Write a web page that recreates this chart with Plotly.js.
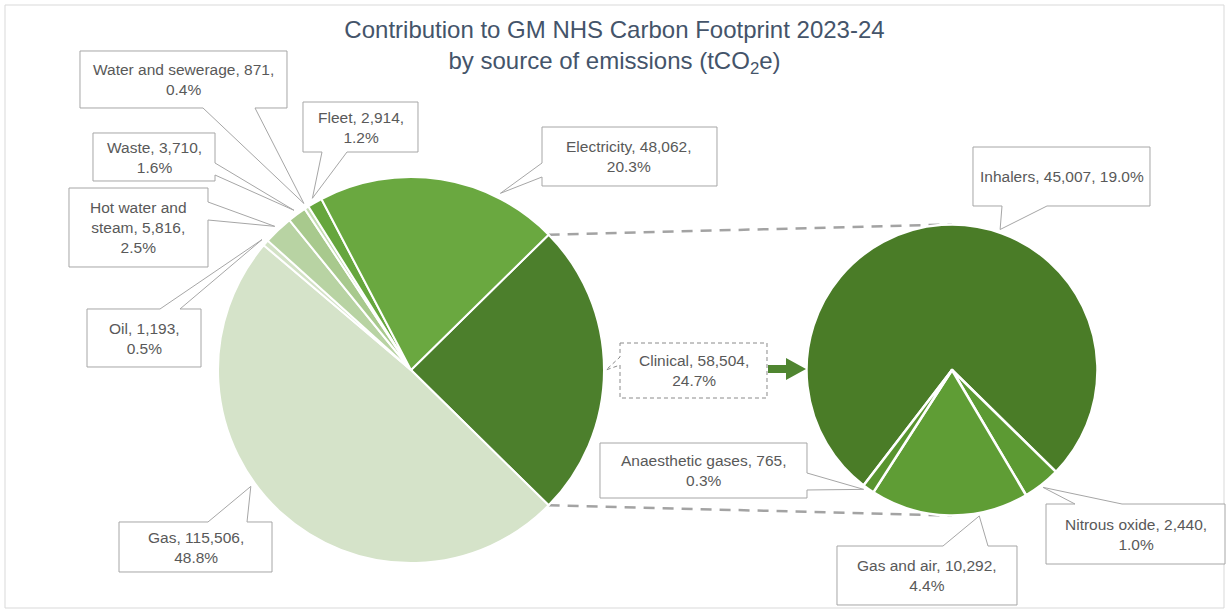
<!DOCTYPE html>
<html><head><meta charset="utf-8">
<script src="https://cdn.plot.ly/plotly-3.0.1.min.js"></script>
<style>html,body{margin:0;padding:0;background:#fff}#chart{width:1229px;height:612px}</style>
</head><body><div id="chart"></div>
<script>
// ---------- DATA ----------
const mainLabels = ['Clinical','Gas','Oil','Hot water and steam','Waste','Water and sewerage','Fleet','Electricity'];
const mainValues = [58504,115506,1193,5816,3710,871,2914,48062];
const clinicalLabels = ['Inhalers','Nitrous oxide','Gas and air','Anaesthetic gases'];
const clinicalValues = [45007,2440,10292,765];
const titleText = 'Contribution to GM NHS Carbon Footprint 2023-24<br>by source of emissions (tCO<sub>2</sub>e)';

// ---------- STYLE / LAYOUT ----------
const W = 1229, H = 612;
const mainColors = ['#4c7f2c','#d5e3c9','#d3e2c6','#b8d3a3','#a8c98d','#c5dcb3','#66a63d','#6aa840'];
const clinicalColors = ['#4a7c27','#5c9a33','#5f9d35','#58942f'];
const FONT = 'Liberation Sans, Arial, sans-serif';
const LEFT = {cx: 411, cy: 370, r: 193};
const RIGHT = {cx: 952, cy: 370, r: 145.5};
const rightRotation = 217.45;

// callout boxes in pixels: box [x0,y0,x1,y1], side of wedge, base positions on that side, fraction within slice for tip
const mainCallouts = {
  'Clinical':            {box:[620,343,767,398], side:'left',   base:[357,365], frac:0.5, dash:true},
  'Gas':                 {box:[119,522,272,572], side:'top',    base:[208,247], frac:0.566},
  'Oil':                 {box:[87,309,201,367],  side:'top',    base:[160,180], frac:0.5},
  'Hot water and steam': {box:[69,188,208,267],  side:'right',  base:[202,220], frac:0.5, name:'Hot water and<br>steam'},
  'Waste':               {box:[93,133,215,181],  side:'right',  base:[163,175], frac:0.5},
  'Water and sewerage':  {box:[80,51,287,108],   side:'bottom', base:[203,255], frac:0.5},
  'Fleet':               {box:[303,102,418,152], side:'bottom', base:[322,347], frac:0.5},
  'Electricity':         {box:[542,127,717,186], side:'left',   base:[163,177], frac:0.745}
};
const clinicalCallouts = {
  'Inhalers':          {box:[973,147,1150,206],  side:'bottom', base:[1002,1047], frac:0.583, oneLine:true},
  'Nitrous oxide':     {box:[1046,504,1225,564], side:'top',    base:[1075,1122], frac:0.52},
  'Gas and air':       {box:[837,546,1017,605],  side:'top',    base:[943,988],   frac:0.316},
  'Anaesthetic gases': {box:[600,443,807,498],   side:'right',  base:[473,490],   frac:0.8}
};

// ---------- HELPERS ----------
const px = x => x / W;
const py = y => 1 - y / H;
const total = mainValues.reduce((a,b)=>a+b,0);
const fmt = v => v.toLocaleString('en-US');
const pct = v => (100 * v / total).toFixed(1) + '%';
function domainOf(p){
  return {x:[px(p.cx-p.r), px(p.cx+p.r)], y:[py(p.cy+p.r), py(p.cy-p.r)]};
}
// slice angles (clockwise from north, degrees) as plotly draws them (direction clockwise)
function sliceAngles(values, rotation){
  const tot = values.reduce((a,b)=>a+b,0);
  let a = rotation; const out = [];
  values.forEach(v => { const d = 360*v/tot; out.push([a, a+d]); a += d; });
  return out;
}
function pt(p, ang, rr){
  const t = ang*Math.PI/180;
  return [p.cx + rr*Math.sin(t), p.cy - rr*Math.cos(t)];
}
function calloutPath(c, tip){
  const [x0,y0,x1,y1] = c.box, [a,b] = c.base;
  let P;
  if(c.side==='bottom') P=[[x0,y0],[x1,y0],[x1,y1],[b,y1],tip,[a,y1],[x0,y1]];
  else if(c.side==='top') P=[[x0,y0],[a,y0],tip,[b,y0],[x1,y0],[x1,y1],[x0,y1]];
  else if(c.side==='left') P=[[x0,y0],[x1,y0],[x1,y1],[x0,y1],[x0,b],tip,[x0,a]];
  else P=[[x0,y0],[x1,y0],[x1,a],tip,[x1,b],[x1,y1],[x0,y1]];
  return 'M' + P.map(q => px(q[0]).toFixed(5)+','+py(q[1]).toFixed(5)).join('L') + 'Z';
}

const mainRotation = 90 - 180*mainValues[0]/total;
const mainAng = sliceAngles(mainValues, mainRotation);
const clinAng = sliceAngles(clinicalValues, rightRotation);

const shapes = [];
const annotations = [];

// outer border
shapes.push({type:'rect', xref:'paper', yref:'paper', x0:px(5), x1:px(1224), y0:py(608), y1:py(5),
  line:{color:'#d9d9d9', width:1}, fillcolor:'rgba(0,0,0,0)', layer:'below'});

// dashed connector lines between the clinical slice and the second pie
const cStart = pt(LEFT, mainAng[0][0], LEFT.r), cEnd = pt(LEFT, mainAng[0][1], LEFT.r);
const rTop = [RIGHT.cx, RIGHT.cy - RIGHT.r], rBot = [RIGHT.cx, RIGHT.cy + RIGHT.r];
[[cStart, rTop],[cEnd, rBot]].forEach(([p0,p1]) => {
  shapes.push({type:'line', xref:'paper', yref:'paper', x0:px(p0[0]), y0:py(p0[1]), x1:px(p1[0]), y1:py(p1[1]),
    line:{color:'#a3a3a3', width:2.5, dash:'11px,8px'}, layer:'below'});
});

// block arrow pointing to the second pie
const ay = LEFT.cy - 1;
const arrowPts = [[768,ay-4],[786,ay-4],[786,ay-11],[806,ay],[786,ay+11],[786,ay+4],[768,ay+4]];
shapes.push({type:'path', xref:'paper', yref:'paper',
  path:'M'+arrowPts.map(q=>px(q[0])+','+py(q[1])).join('L')+'Z',
  fillcolor:'#4f8530', line:{width:0}});

function addCallout(c, name, value, tip){
  const n = c.name || name;
  const sep = c.oneLine ? ' ' : '<br>';
  shapes.push({type:'path', xref:'paper', yref:'paper', path: calloutPath(c, tip),
    fillcolor:'#ffffff', line:{color: c.dash ? '#8a8a8a' : '#a6a6a6', width:1, dash: c.dash ? '4px,3px' : 'solid'}});
  annotations.push({xref:'paper', yref:'paper', x:px((c.box[0]+c.box[2])/2), y:py((c.box[1]+c.box[3])/2),
    xanchor:'center', yanchor:'middle', showarrow:false, align:'center',
    text: n + ', ' + fmt(value) + ',' + sep + pct(value),
    font:{family:FONT, size:15.5, color:'#595959'}});
}
mainLabels.forEach((lab,i) => {
  const c = mainCallouts[lab];
  const [a0,a1] = mainAng[i];
  const ang = a0 + (a1-a0)*c.frac;
  const tip = lab==='Clinical' ? pt(LEFT, ang, LEFT.r+2) : pt(LEFT, ang, LEFT.r+5);
  addCallout(c, lab, mainValues[i], tip);
});
clinicalLabels.forEach((lab,i) => {
  const c = clinicalCallouts[lab];
  const [a0,a1] = clinAng[i];
  const ang = a0 + (a1-a0)*c.frac;
  addCallout(c, lab, clinicalValues[i], pt(RIGHT, ang, RIGHT.r+3));
});

const traces = [
  {type:'pie', labels:mainLabels, values:mainValues, sort:false, direction:'clockwise', rotation:mainRotation,
   domain:domainOf(LEFT), textinfo:'none', hoverinfo:'label+value+percent',
   marker:{colors:mainColors, line:{color:'#ffffff', width:2}}},
  {type:'pie', labels:clinicalLabels, values:clinicalValues, sort:false, direction:'clockwise', rotation:rightRotation,
   domain:domainOf(RIGHT), textinfo:'none', hoverinfo:'label+value',
   marker:{colors:clinicalColors, line:{color:'#ffffff', width:2.5}}}
];

const layout = {
  width:W, height:H, margin:{l:0,r:0,t:0,b:0}, showlegend:false,
  paper_bgcolor:'#ffffff', plot_bgcolor:'#ffffff',
  title:{text:titleText, x:0.5, xanchor:'center', y:1-38/H, yanchor:'top', yref:'container',
         font:{family:FONT, size:24, color:'#44546a'}},
  shapes:shapes, annotations:annotations
};
Plotly.newPlot('chart', traces, layout, {displayModeBar:false, staticPlot:true});
</script>
</body></html>
